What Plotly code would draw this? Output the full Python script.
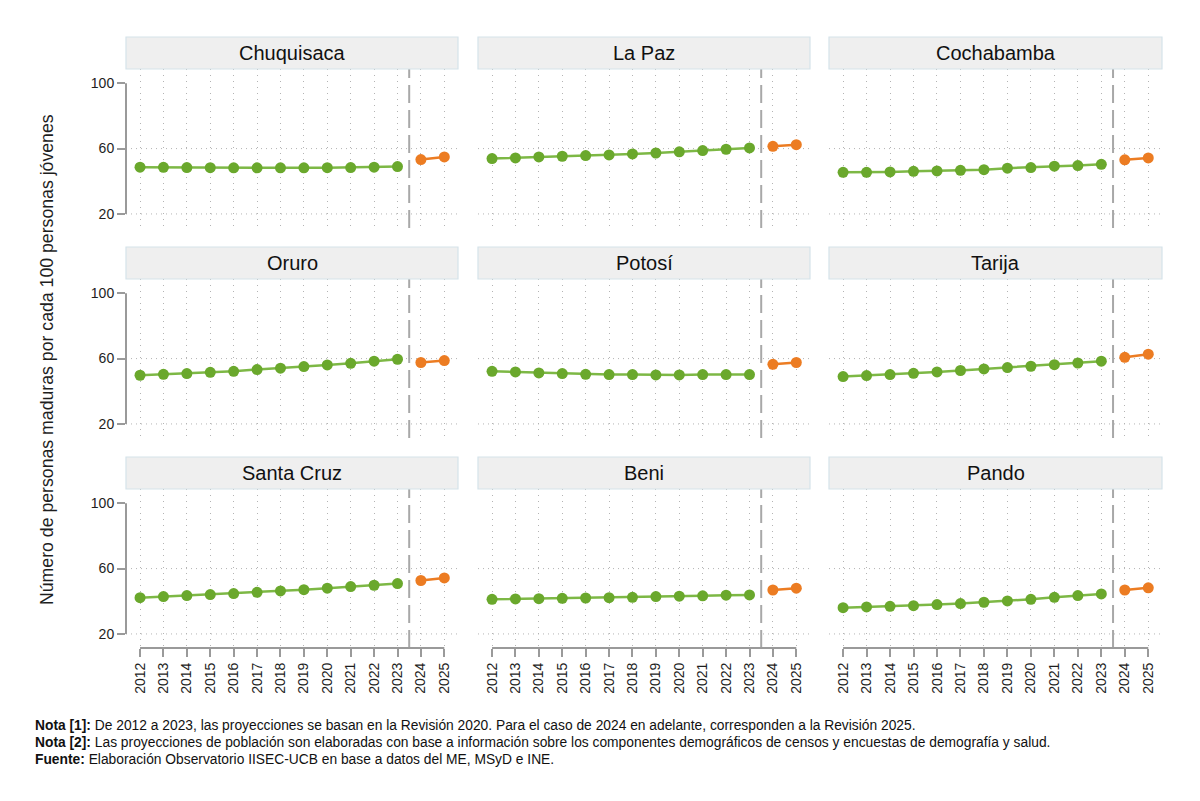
import plotly.graph_objects as go

W, H = 1200, 801
FONT = "Liberation Sans, Arial, sans-serif"

departments = ["Chuquisaca", "La Paz", "Cochabamba",
               "Oruro", "Potosí", "Tarija",
               "Santa Cruz", "Beni", "Pando"]

years_r2020 = list(range(2012, 2024))
years_r2025 = [2024, 2025]
tick_years = list(range(2012, 2026))

rev2020 = {
    "Chuquisaca": [48.6, 48.5, 48.4, 48.3, 48.2, 48.2, 48.2, 48.2, 48.3, 48.4, 48.6, 49.0],
    "La Paz":     [53.9, 54.3, 54.9, 55.3, 55.7, 56.1, 56.7, 57.3, 58.0, 58.8, 59.6, 60.4],
    "Cochabamba": [45.5, 45.5, 45.7, 46.1, 46.3, 46.7, 47.1, 48.0, 48.4, 49.2, 49.6, 50.4],
    "Oruro":      [49.8, 50.4, 50.8, 51.6, 52.2, 53.3, 54.1, 55.1, 56.1, 57.1, 58.4, 59.6],
    "Potosí":     [52.2, 51.8, 51.2, 50.8, 50.4, 50.2, 50.2, 50.0, 50.0, 50.2, 50.2, 50.2],
    "Tarija":     [49.0, 49.6, 50.2, 51.0, 51.8, 52.7, 53.7, 54.5, 55.3, 56.3, 57.3, 58.4],
    "Santa Cruz": [42.2, 42.9, 43.5, 44.1, 44.7, 45.5, 46.3, 47.1, 48.0, 49.0, 49.8, 50.8],
    "Beni":       [41.2, 41.4, 41.6, 41.8, 42.0, 42.2, 42.4, 42.9, 43.1, 43.3, 43.7, 43.9],
    "Pando":      [36.1, 36.5, 36.9, 37.3, 38.0, 38.6, 39.4, 40.2, 41.2, 42.4, 43.5, 44.5],
}
rev2025 = {
    "Chuquisaca": [53.3, 54.9],
    "La Paz":     [61.4, 62.4],
    "Cochabamba": [53.1, 54.3],
    "Oruro":      [57.6, 58.8],
    "Potosí":     [56.5, 57.6],
    "Tarija":     [60.8, 62.7],
    "Santa Cruz": [52.7, 54.3],
    "Beni":       [46.9, 48.0],
    "Pando":      [46.9, 48.2],
}

y_ticks = [20, 60, 100]
y_grid = [20, 60]
y_range = [11.4, 108.7]
x_range = [2011.4, 2025.585]
split_year = 2023.5

notes = [
    ("Nota [1]:", " De 2012 a 2023, las proyecciones se basan en la Revisión 2020. Para el caso de 2024 en adelante, corresponden a la Revisión 2025."),
    ("Nota [2]:", " Las proyecciones de población son elaboradas con base a información sobre los componentes demográficos de censos y encuestas de demografía y salud."),
    ("Fuente:", " Elaboración Observatorio IISEC-UCB en base a datos del ME, MSyD e INE."),
]
y_title = "Número de personas maduras por cada 100 personas jóvenes"

GREEN = "#6aa82c"
GREEN_LINE = "#7db845"
ORANGE = "#ec7c22"
GRID = "#b4b4b4"
AXIS = "#9a9a9a"

# layout geometry (pixels)
cols_px = [(126, 458), (478, 810), (829, 1162)]
rows_px = [(69, 228), (279, 438), (489, 648)]
strip_h = 32

fig = go.Figure()
shapes = []
annotations = []

for i, dep in enumerate(departments):
    r, c = divmod(i, 3)
    n = i + 1
    xa = "x" if n == 1 else f"x{n}"
    ya = "y" if n == 1 else f"y{n}"
    x0, x1 = cols_px[c]
    yt, yb = rows_px[r]

    fig.add_trace(go.Scatter(
        x=years_r2020, y=rev2020[dep], mode="lines+markers",
        line=dict(color=GREEN_LINE, width=2.5),
        marker=dict(color=GREEN, size=11),
        xaxis=xa, yaxis=ya, showlegend=False, hoverinfo="x+y"))
    fig.add_trace(go.Scatter(
        x=years_r2025, y=rev2025[dep], mode="lines+markers",
        line=dict(color=ORANGE, width=2.5),
        marker=dict(color=ORANGE, size=11),
        xaxis=xa, yaxis=ya, showlegend=False, hoverinfo="x+y"))

    xkey = "xaxis" if n == 1 else f"xaxis{n}"
    ykey = "yaxis" if n == 1 else f"yaxis{n}"
    bottom = (r == 2)
    left = (c == 0)
    fig.update_layout(**{
        xkey: dict(
            domain=[x0 / W, x1 / W], anchor=ya, range=x_range,
            tickmode="array", tickvals=tick_years,
            ticktext=[str(t) for t in tick_years],
            showticklabels=bottom, ticks="outside" if bottom else "",
            ticklen=8, tickwidth=1.5, tickcolor=AXIS, tickangle=-90,
            tickfont=dict(family=FONT, size=14, color="#1e1e1e"),
            showgrid=True, gridcolor=GRID, griddash="1px,5px", gridwidth=1,
            showline=False, zeroline=False, fixedrange=True),
        ykey: dict(
            domain=[1 - yb / H, 1 - yt / H], anchor=xa, range=y_range,
            tickmode="array", tickvals=y_ticks,
            showticklabels=left, ticks="outside" if left else "",
            ticklen=8, tickwidth=1.5, tickcolor=AXIS,
            tickfont=dict(family=FONT, size=14, color="#1e1e1e"),
            showgrid=False, showline=False, zeroline=False, fixedrange=True),
    })

    # horizontal dotted grid lines
    for g in y_grid:
        shapes.append(dict(type="line", xref=f"{xa} domain", yref=ya,
                           x0=0, x1=1, y0=g, y1=g,
                           line=dict(color=GRID, width=1, dash="1px,4px"), layer="below"))
    # split line
    shapes.append(dict(type="line", xref=xa, yref=f"{ya} domain",
                       x0=split_year, x1=split_year, y0=0, y1=1,
                       line=dict(color="#a8a8a8", width=2, dash="18px,7px"), layer="below"))
    # axis lines (Stata style spanning tick range)
    if left:
        shapes.append(dict(type="line", xref=f"{xa} domain", yref=ya,
                           x0=0, x1=0, y0=y_ticks[0], y1=y_ticks[-1],
                           line=dict(color=AXIS, width=2)))
    if bottom:
        shapes.append(dict(type="line", xref=xa, yref=f"{ya} domain",
                           x0=tick_years[0], x1=tick_years[-1], y0=0, y1=0,
                           line=dict(color=AXIS, width=2)))
    # strip
    st = yt - strip_h
    shapes.append(dict(type="rect", xref="paper", yref="paper",
                       x0=x0 / W, x1=x1 / W, y0=1 - yt / H, y1=1 - st / H,
                       fillcolor="#efefef", line=dict(color="#d5e3ea", width=1.2)))
    annotations.append(dict(xref="paper", yref="paper",
                            x=(x0 + x1) / 2 / W, y=1 - (st + strip_h / 2) / H,
                            text=dep, showarrow=False, xanchor="center", yanchor="middle",
                            font=dict(family=FONT, size=20, color="#111111")))

annotations.append(dict(xref="paper", yref="paper", x=47 / W, y=1 - 360 / H,
                        text=y_title, textangle=-90, showarrow=False,
                        xanchor="center", yanchor="middle",
                        font=dict(family=FONT, size=17.7, color="#1e1e1e")))

for k, (bold, rest) in enumerate(notes):
    annotations.append(dict(xref="paper", yref="paper", x=33 / W, y=1 - (725 + 17 * k) / H,
                            text=f"<b>{bold}</b>{rest}", showarrow=False,
                            xanchor="left", yanchor="middle",
                            font=dict(family=FONT, size=13.8, color="#111111")))

fig.update_layout(width=W, height=H, margin=dict(l=0, r=0, t=0, b=0),
                  paper_bgcolor="white", plot_bgcolor="white",
                  shapes=shapes, annotations=annotations,
                  font=dict(family=FONT))

fig.write_html("out.html")
